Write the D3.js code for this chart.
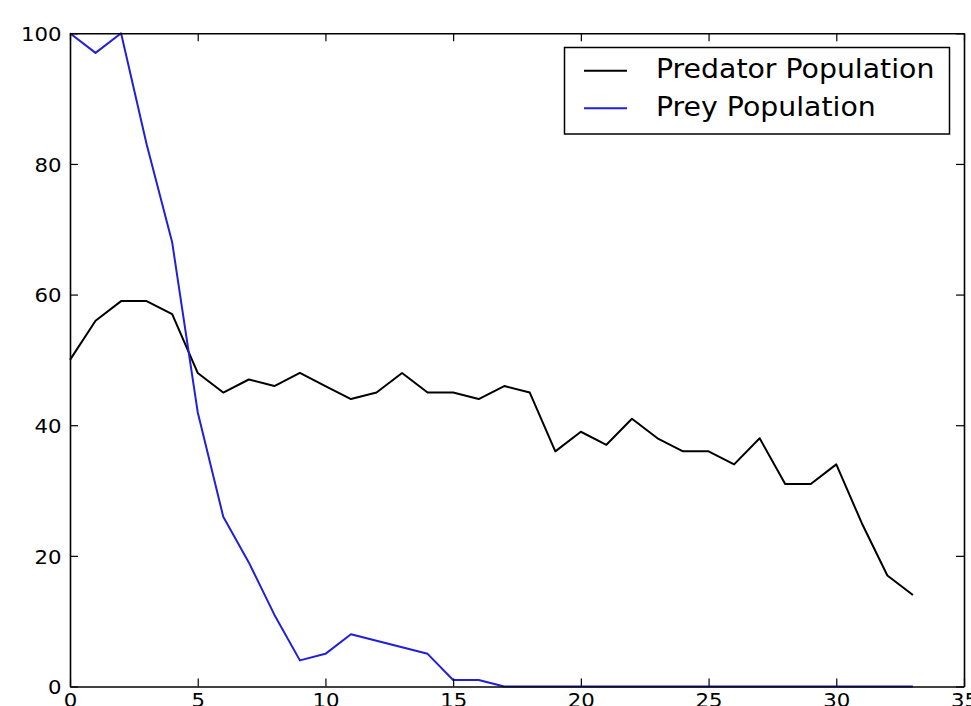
<!DOCTYPE html>
<html>
<head>
<meta charset="utf-8">
<script src="https://cdn.jsdelivr.net/npm/d3@7"></script>
<style>
  body { margin: 0; background: #fff; }
  svg { display: block; font-family: "DejaVu Sans", sans-serif; }
</style>
</head>
<body>
<div id="chart"></div>
<script>
// values, one per time step (0..33)
var predator = [50, 56, 59, 59, 57, 48, 45, 47, 46, 48, 46, 44, 45, 48, 45, 45, 44,
                46, 45, 36, 39, 37, 41, 38, 36, 36, 34, 38, 31, 31, 34, 25, 17, 14];
var prey = [100, 97, 100, 83, 68, 42, 26, 19, 11, 4, 5, 8, 7, 6, 5, 1, 1,
            0, 0, 0, 0, 0, 0, 0, 0, 0, 0, 0, 0, 0, 0, 0, 0, 0];
var xTicks = [0, 5, 10, 15, 20, 25, 30, 35];
var yTicks = [0, 20, 40, 60, 80, 100];
var seriesNames = ["Predator Population", "Prey Population"];
var seriesColors = ["#000000", "#2020d8"];

var width = 971;
var height = 706;
var plotLeft = 70, plotTop = 33.3, plotRight = 964, plotBottom = 686.5;
var stretch = 1.09;

var svg = d3.select("#chart")
    .append("svg")
    .attr("width", width)
    .attr("height", height);

var x = d3.scaleLinear().domain([0, 35]).range([plotLeft, plotRight]);
var y = d3.scaleLinear().domain([0, 100]).range([plotBottom, plotTop]);

function styleAxis(g) {
    g.select(".domain").attr("stroke", "#000").attr("stroke-width", 1.6);
    g.selectAll(".tick line").attr("stroke", "#000").attr("stroke-width", 1.2);
    g.selectAll(".tick text")
        .attr("fill", "#000")
        .style("font-size", "19.5px")
        .style("font-family", "DejaVu Sans, sans-serif");
}

// data lines
var line = d3.line()
    .x(function(d, i) { return x(i); })
    .y(function(d) { return y(d); });

[predator, prey].forEach(function(series, k) {
    svg.append("path")
        .datum(series)
        .attr("fill", "none")
        .attr("stroke", seriesColors[k])
        .attr("stroke-width", 2)
        .attr("stroke-linejoin", "round")
        .attr("d", line);
});

// axes: ticks pointing inward on all four sides
var bottomAxis = svg.append("g")
    .attr("transform", "translate(0," + plotBottom + ")")
    .call(d3.axisBottom(x).tickValues(xTicks).tickSizeInner(-8).tickSizeOuter(0).tickPadding(0)
        .tickFormat(d3.format("d")));
styleAxis(bottomAxis);
bottomAxis.selectAll(".tick text")
    .attr("y", 20.5)
    .attr("dy", null)
    .attr("transform", "scale(" + stretch + ",1)");

var leftAxis = svg.append("g")
    .attr("transform", "translate(" + plotLeft + ",0)")
    .call(d3.axisLeft(y).tickValues(yTicks).tickSizeInner(-8).tickSizeOuter(0).tickPadding(8)
        .tickFormat(d3.format("d")));
styleAxis(leftAxis);
leftAxis.selectAll(".tick text")
    .attr("dy", "0.37em")
    .attr("transform", "scale(" + stretch + ",1)")
    .attr("x", -8.5 / stretch);

var topAxis = svg.append("g")
    .attr("transform", "translate(0," + plotTop + ")")
    .call(d3.axisTop(x).tickValues(xTicks).tickSizeInner(-8).tickSizeOuter(0).tickFormat(""));
styleAxis(topAxis);

var rightAxis = svg.append("g")
    .attr("transform", "translate(" + plotRight + ",0)")
    .call(d3.axisRight(y).tickValues(yTicks).tickSizeInner(-8).tickSizeOuter(0).tickFormat(""));
styleAxis(rightAxis);

// legend
var legend = svg.append("g");
legend.append("rect")
    .attr("x", 564.5)
    .attr("y", 47.5)
    .attr("width", 385)
    .attr("height", 86.5)
    .attr("fill", "#fff")
    .attr("stroke", "#000")
    .attr("stroke-width", 1.5);

var rows = legend.selectAll("g.row")
    .data(seriesNames)
    .enter()
    .append("g")
    .attr("class", "row")
    .attr("transform", function(d, i) { return "translate(0," + (70.7 + i * 37.5) + ")"; });

rows.append("line")
    .attr("x1", 584)
    .attr("x2", 627)
    .attr("stroke", function(d, i) { return seriesColors[i]; })
    .attr("stroke-width", 2);

rows.append("text")
    .attr("transform", "translate(656,7.7) scale(" + stretch + ",1)")
    .style("font-size", "26px")
    .attr("fill", "#000")
    .text(function(d) { return d; });
</script>
</body>
</html>
